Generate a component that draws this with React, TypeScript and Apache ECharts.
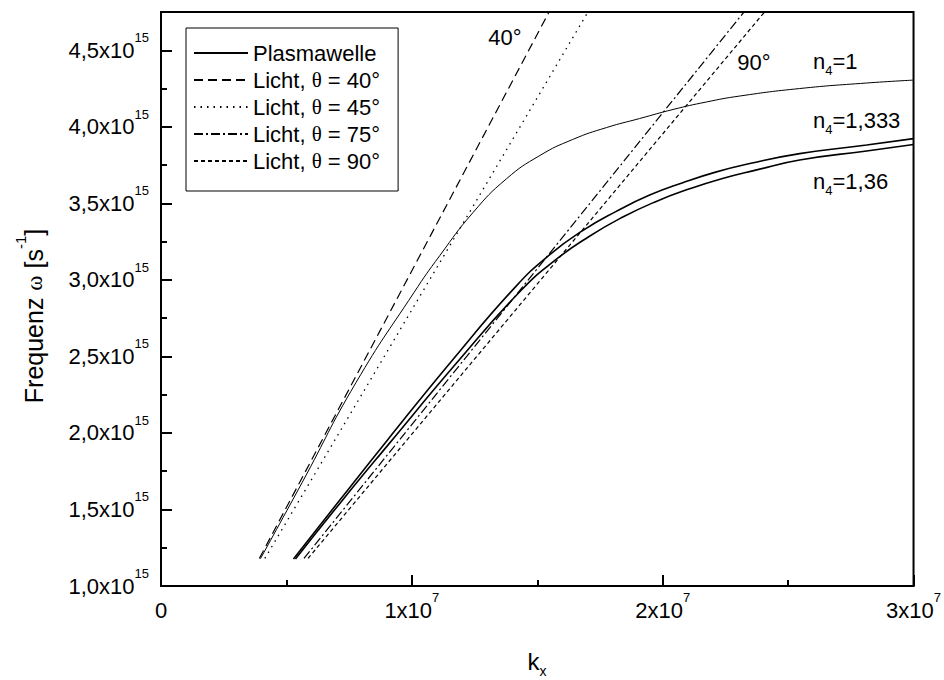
import React, { useEffect, useRef } from 'react';
import * as echarts from 'echarts';

const FONT = '"Liberation Sans", Arial, Helvetica, sans-serif';
const SERIF = '"Liberation Serif", "Times New Roman", serif';

// Plasmawelle, n4 = 1  (k_x in 1/m, omega in 1/s)
const plasmaN1K = [3.96e6, 5.62e6, 7.77e6, 1.008e7, 1.112e7, 1.244e7, 1.377e7, 1.51e7, 1.641e7, 1.776e7, 1.908e7, 2.041e7, 2.174e7, 2.307e7, 2.546e7, 2.812e7, 3.0e7];
const plasmaN1W = [1.177e15, 1.674e15, 2.328e15, 2.916e15, 3.16e15, 3.44e15, 3.66e15, 3.812e15, 3.917e15, 3.995e15, 4.054e15, 4.113e15, 4.162e15, 4.201e15, 4.25e15, 4.286e15, 4.305e15];

// Plasmawelle, n4 = 1,333
const plasmaN1333K = [5.28e6, 7.13e6, 9.0e6, 1.163e7, 1.414e7, 1.55e7, 1.681e7, 1.813e7, 1.948e7, 2.08e7, 2.211e7, 2.347e7, 2.546e7, 2.813e7, 3.0e7];
const plasmaN1333W = [1.177e15, 1.562e15, 1.948e15, 2.478e15, 2.956e15, 3.165e15, 3.322e15, 3.446e15, 3.554e15, 3.635e15, 3.704e15, 3.76e15, 3.825e15, 3.881e15, 3.923e15];

// Plasmawelle, n4 = 1,36
const plasmaN136K = [5.36e6, 7.21e6, 9.12e6, 1.179e7, 1.434e7, 1.574e7, 1.705e7, 1.837e7, 1.972e7, 2.104e7, 2.235e7, 2.371e7, 2.546e7, 2.813e7, 3.0e7];
const plasmaN136W = [1.177e15, 1.556e15, 1.935e15, 2.458e15, 2.929e15, 3.132e15, 3.282e15, 3.407e15, 3.511e15, 3.593e15, 3.661e15, 3.717e15, 3.783e15, 3.842e15, 3.884e15];

// Lichtgeraden
const light40K = [3.92e6, 1.547e7];
const light40W = [1.18e15, 4.75e15];
const light45K = [4.14e6, 1.702e7];
const light45W = [1.18e15, 4.75e15];
const light75K = [5.7e6, 2.324e7];
const light75W = [1.18e15, 4.75e15];
const light90K = [5.86e6, 2.406e7];
const light90W = [1.18e15, 4.75e15];

const legendNames = ['Plasmawelle', 'Licht, θ = 40°', 'Licht, θ = 45°', 'Licht, θ = 75°', 'Licht, θ = 90°'];
const xTickMantissa = ['0', '1', '2', '3'];
const xExponent = '7';
const yExponent = '15';

const pairs = (k: number[], w: number[]) => k.map((x, i) => [x, w[i]]);

const supRich = {
  a: { fontFamily: FONT, fontSize: 22, lineHeight: 38, color: '#000', verticalAlign: 'middle' },
  s: { fontFamily: FONT, fontSize: 13, lineHeight: 14, color: '#000', verticalAlign: 'top' },
};
const subRich = {
  a: { fontFamily: FONT, fontSize: 22, lineHeight: 22, color: '#000', verticalAlign: 'middle' },
  b: { fontFamily: FONT, fontSize: 13, lineHeight: 32, color: '#000', verticalAlign: 'bottom' },
};

function textEl(x: number, y: number, text: string, rich: any, align = 'left', vAlign = 'top', rotation = 0) {
  return {
    type: 'text',
    x,
    y,
    rotation,
    style: {
      text,
      rich,
      fill: '#000',
      fontFamily: FONT,
      fontSize: 22,
      align,
      verticalAlign: vAlign,
      textAlign: align,
      textVerticalAlign: vAlign,
    },
  };
}

export default function App() {
  const ref = useRef<HTMLDivElement>(null);
  useEffect(() => {
    if (!ref.current) return;
    const chart = echarts.init(ref.current, undefined, { renderer: 'svg' });
    const lineSeries = (name: string, data: number[][], width: number, type: any, smooth: boolean) => ({
      name,
      type: 'line',
      data,
      symbol: 'none',
      smooth: smooth ? 0.5 : false,
      lineStyle: { color: '#000', width, type },
      itemStyle: { color: '#000' },
      emphasis: { disabled: true },
      silent: true,
    });
    chart.setOption({
      animation: false,
      backgroundColor: '#fff',
      grid: { left: 161, right: 30, top: 12, bottom: 94, show: true, borderColor: '#000', borderWidth: 2, backgroundColor: 'transparent' },
      legend: {
        data: legendNames,
        orient: 'vertical',
        left: 186,
        top: 28,
        itemWidth: 54,
        itemHeight: 14,
        itemGap: 5,
        padding: [14, 18, 19, 7],
        borderColor: '#000',
        borderWidth: 1,
        backgroundColor: '#fff',
        selectedMode: false,
        itemStyle: { opacity: 0 },
        textStyle: {
          fontFamily: FONT,
          fontSize: 22,
          color: '#000',
          rich: {
            n: { fontFamily: FONT, fontSize: 22, color: '#000' },
            t: { fontFamily: SERIF, fontSize: 21, color: '#000' },
          },
        },
        formatter: (name: string) => {
          const i = name.indexOf('θ');
          if (i < 0) return `{n|${name}}`;
          return `{n|${name.slice(0, i)}}{t|θ}{n|${name.slice(i + 1)}}`;
        },
      },
      xAxis: {
        type: 'value',
        min: 0,
        max: 3e7,
        interval: 1e7,
        axisLine: { show: true, onZero: false, lineStyle: { color: '#000', width: 2 } },
        axisTick: { show: true, inside: true, length: 11, lineStyle: { color: '#000', width: 2 } },
        minorTick: { show: true, splitNumber: 2, length: 6, lineStyle: { color: '#000', width: 2 } },
        splitLine: { show: false },
        axisLabel: {
          margin: 5,
          color: '#000',
          rich: supRich,
          formatter: (v: number) => {
            const m = Math.round(v / 1e7);
            if (m === 0) return `{a|${xTickMantissa[0]}}`;
            return `{a|${xTickMantissa[m]}x10}{s|${xExponent}}`;
          },
        },
      },
      yAxis: {
        type: 'value',
        min: 1e15,
        max: 4.75e15,
        interval: 0.5e15,
        axisLine: { show: true, onZero: false, lineStyle: { color: '#000', width: 2 } },
        axisTick: { show: true, inside: true, length: 11, lineStyle: { color: '#000', width: 2 } },
        minorTick: { show: true, splitNumber: 2, length: 6, lineStyle: { color: '#000', width: 2 } },
        splitLine: { show: false },
        axisLabel: {
          margin: 12,
          color: '#000',
          rich: supRich,
          showMaxLabel: false,
          formatter: (v: number) => {
            const q = v / 0.5e15;
            if (Math.abs(q - Math.round(q)) > 1e-6) return '';
            const s = (v / 1e15).toFixed(1).replace('.', ',');
            return `{a|${s}x10}{s|${yExponent}}`;
          },
        },
      },
      series: [
        lineSeries('Plasmawelle', pairs(plasmaN1K, plasmaN1W), 1, 'solid', true),
        lineSeries('n4=1,333', pairs(plasmaN1333K, plasmaN1333W), 1.6, 'solid', true),
        lineSeries('n4=1,36', pairs(plasmaN136K, plasmaN136W), 1.6, 'solid', true),
        lineSeries('Licht, θ = 40°', pairs(light40K, light40W), 1.2, [9, 5], false),
        lineSeries('Licht, θ = 45°', pairs(light45K, light45W), 1.3, [1.5, 5], false),
        lineSeries('Licht, θ = 75°', pairs(light75K, light75W), 1.2, [9, 3, 2, 3], false),
        lineSeries('Licht, θ = 90°', pairs(light90K, light90W), 1.2, [4, 3], false),
      ],
      graphic: [
        textEl(505, 37, '{a|40°}', subRich, 'center', 'middle'),
        textEl(754, 62, '{a|90°}', subRich, 'center', 'middle'),
        textEl(813, 45, '{a|n}{b|4}{a|=1}', subRich, 'left', 'top'),
        textEl(813, 104, '{a|n}{b|4}{a|=1,333}', subRich, 'left', 'top'),
        textEl(813, 165, '{a|n}{b|4}{a|=1,36}', subRich, 'left', 'top'),
        textEl(537, 644, '{k|k}{b|x}', {
          k: { fontFamily: FONT, fontSize: 24, lineHeight: 24, color: '#000', verticalAlign: 'middle' },
          b: { fontFamily: FONT, fontSize: 14, lineHeight: 34, color: '#000', verticalAlign: 'bottom' },
        }, 'center', 'top'),
        textEl(34, 316, '{a|Frequenz }{w|ω}{a| [s}{s|-1}{a|]}', {
          a: { fontFamily: FONT, fontSize: 25, lineHeight: 42, color: '#000', verticalAlign: 'middle' },
          w: { fontFamily: SERIF, fontSize: 23, lineHeight: 42, color: '#000', verticalAlign: 'middle' },
          s: { fontFamily: FONT, fontSize: 15, lineHeight: 16, color: '#000', verticalAlign: 'top' },
        }, 'center', 'middle', Math.PI / 2),
      ],
    });
    return () => chart.dispose();
  }, []);
  return <div ref={ref} style={{ position: 'fixed', left: 0, top: 0, width: 944, height: 680 }} />;
}
